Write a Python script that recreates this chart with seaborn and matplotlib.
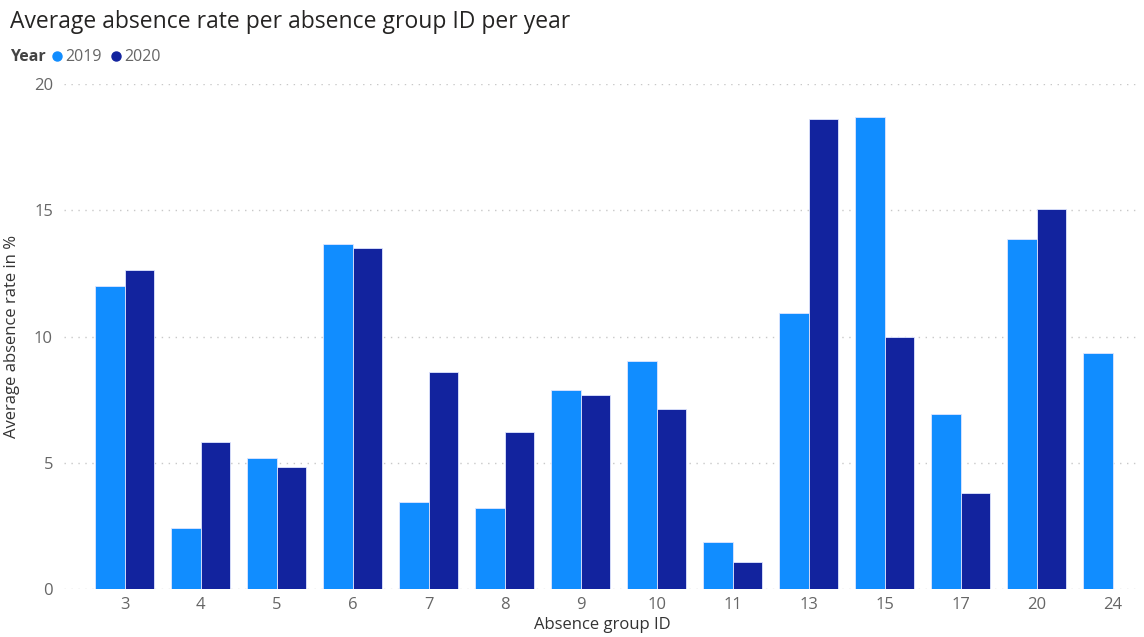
import matplotlib
matplotlib.use("Agg")
import matplotlib.pyplot as plt
import seaborn as sns
import pandas as pd
import numpy as np
from matplotlib.lines import Line2D

groups = ["3", "4", "5", "6", "7", "8", "9", "10", "11", "13", "15", "17", "20", "24"]
rate_2019 = [12.0, 2.42, 5.19, 13.67, 3.46, 3.22, 7.90, 9.05, 1.85, 10.95, 18.68, 6.92, 13.88, 9.35]
rate_2020 = [12.65, 5.83, 4.84, 13.49, 8.60, 6.23, 7.68, 7.14, 1.05, 18.62, 9.99, 3.81, 15.05, None]
years = ["2019", "2020"]
colors = ["#118DFF", "#12239E"]

rows = []
for g, a, b in zip(groups, rate_2019, rate_2020):
    rows.append({"group": g, "Year": "2019", "rate": a})
    if b is not None:
        rows.append({"group": g, "Year": "2020", "rate": b})
df = pd.DataFrame(rows)

sns.set_theme(style="white")
plt.rcParams["font.family"] = ["Open Sans", "DejaVu Sans"]

fig = plt.figure(figsize=(11.44, 6.37), dpi=100)
ax = fig.add_axes([0.056, 0.0754, 0.9405, 0.7926])

sns.barplot(data=df, x="group", y="rate", hue="Year", order=groups, hue_order=years,
            palette=colors, width=0.78, saturation=1, ax=ax,
            edgecolor="#dfe6ff", linewidth=0.6, legend=False, zorder=3)

ax.set_ylim(0, 20)
ax.set_xlim(-0.8, 13.36)
ax.set_yticks([0, 5, 10, 15, 20])
ax.yaxis.grid(True, linestyle=(0, (1, 4)), color="#c8c8c8", linewidth=1, zorder=0)
ax.xaxis.grid(False)
for s in ax.spines.values():
    s.set_visible(False)
ax.tick_params(axis="both", length=0, labelsize=12, colors="#666666")
ax.tick_params(axis="y", pad=8)
ax.tick_params(axis="x", pad=6)
ax.set_xlabel("Absence group ID", fontsize=12, color="#333333", labelpad=3)
ax.set_ylabel("Average absence rate in %", fontsize=12, color="#333333")
ax.yaxis.set_label_coords(-0.041, 0.5)

fig.text(0.009, 0.966, "Average absence rate per absence group ID per year",
         fontsize=16.5, color="#252423", va="center", ha="left")
fig.text(0.009, 0.910, "Year", fontsize=11.5, fontweight="bold", color="#444444",
         va="center", ha="left")
handles = [Line2D([0], [0], marker="o", linestyle="", markersize=6.5,
                  markerfacecolor=c, markeredgecolor=c) for c in colors]
fig.legend(handles, years, loc="center left", bbox_to_anchor=(0.043, 0.910), ncol=2,
           frameon=False, fontsize=11.5, handletextpad=0.0, columnspacing=0.4,
           labelcolor="#666666", borderaxespad=0, borderpad=0, handlelength=1.0)

fig.savefig("out.png", dpi=100)
